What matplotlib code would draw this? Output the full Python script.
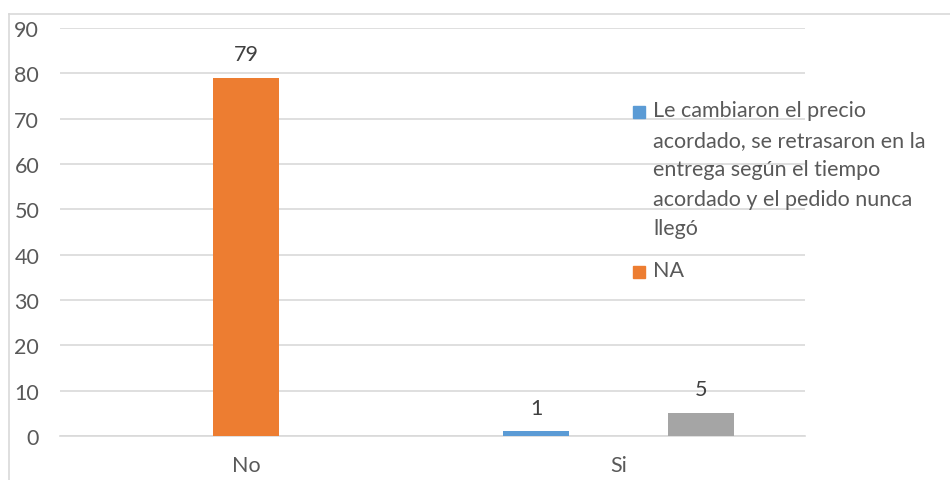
import matplotlib.pyplot as plt
import numpy as np
from matplotlib.lines import Line2D
from matplotlib.patches import Rectangle

plt.rcParams['font.family'] = ['Lato', 'DejaVu Sans']

categorias = ["No", "Si"]
cambiaron = [np.nan, 1]
na = [79, np.nan]
otro = [np.nan, 5]

nombres = ["Le cambiaron el precio\nacordado, se retrasaron en la\nentrega según el tiempo\nacordado y el pedido nunca\nllegó", "NA"]
colores = ["#5B9BD5", "#ED7D31", "#A5A5A5"]

W, H = 950, 481
fs = 15.5
fig = plt.figure(figsize=(W / 100, H / 100), dpi=100)
ax = fig.add_axes([60 / W, 1 - 437 / H, (805 - 60) / W, (437 - 29) / H])

x = np.arange(len(categorias))
ancho = 0.177
paso = 0.221
for k, (serie, color) in enumerate(zip([cambiaron, na, otro], colores)):
    pos = x + (k - 1) * paso
    ax.bar(pos, serie, width=ancho, color=color, zorder=3)
    for xi, v in zip(pos, serie):
        if not np.isnan(v):
            ax.annotate(f"{v:g}", (xi, v), xytext=(0, 10), textcoords="offset points",
                        ha="center", va="bottom", fontsize=fs, color="#404040")

ax.set_xlim(-0.5, 1.5)
ax.set_ylim(0, 90)
ax.set_yticks(range(0, 91, 10))
ax.set_xticks(x)
ax.set_xticklabels(categorias)
ax.yaxis.grid(True, color="#d9d9d9", linewidth=1.2, zorder=0)
ax.set_axisbelow(True)
for s in ax.spines.values():
    s.set_visible(False)
ax.spines["bottom"].set_visible(True)
ax.spines["bottom"].set_color("#d9d9d9")
ax.spines["bottom"].set_linewidth(1.2)
ax.tick_params(axis="both", length=0, labelsize=fs, colors="#595959")
ax.tick_params(axis="y", pad=15)
ax.tick_params(axis="x", pad=14)

# borde del área del gráfico
fig.add_artist(Line2D([9 / W, 9 / W], [0, 1 - 15 / H], color="#d9d9d9", lw=1.2))
fig.add_artist(Line2D([9 / W, 1], [1 - 15 / H, 1 - 15 / H], color="#d9d9d9", lw=1.2))

# leyenda
for (ytop, nombre, color) in [(107, nombres[0], colores[0]), (267, nombres[1], colores[1])]:
    fig.add_artist(Rectangle((633 / W, 1 - (ytop + 12) / H), 12 / W, 12 / H,
                             transform=fig.transFigure, color=color))
    fig.text(653 / W, 1 - (ytop - 6) / H, nombre, ha="left", va="top",
             fontsize=fs, color="#595959", linespacing=1.6)

fig.savefig("out.png", dpi=100)
